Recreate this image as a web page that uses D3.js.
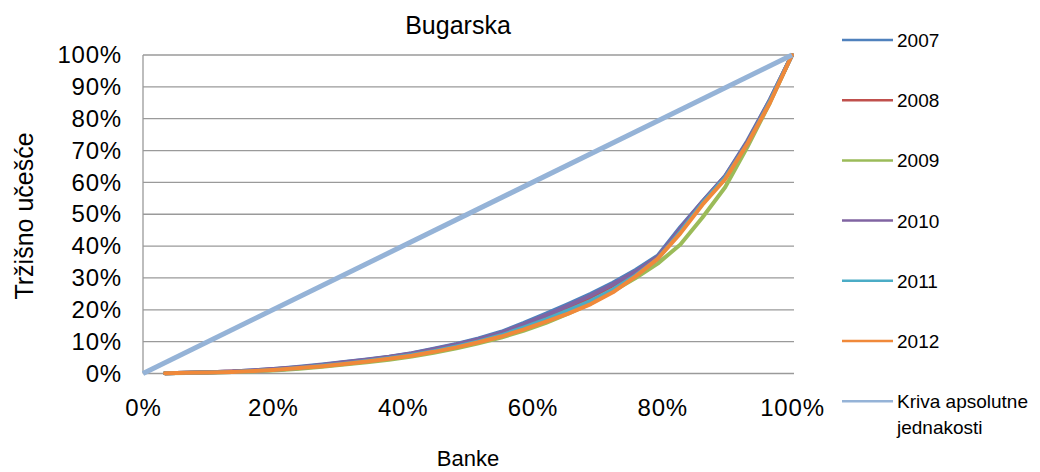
<!DOCTYPE html>
<html>
<head>
<meta charset="utf-8">
<script src="https://cdn.jsdelivr.net/npm/d3@7"></script>
<style>
  html, body { margin: 0; padding: 0; background: #fff; }
  svg { display: block; font-family: "Liberation Sans", Arial, sans-serif; }
</style>
</head>
<body>
<svg id="chart" width="1040" height="472"></svg>
<script>
// ---- Data ----
const title = "Bugarska";
const xTitle = "Banke";
const yTitle = "Tržišno učešće";
const years = ["2007", "2008", "2009", "2010", "2011", "2012"];
const equalityLabel = ["Kriva apsolutne", "jednakosti"];

// cumulative share of banks (%) for bank 1..29
const banke = [3.4, 6.9, 10.3, 13.8, 17.2, 20.7, 24.1, 27.6, 31.0, 34.5, 37.9, 41.4, 44.8, 48.3, 51.7,
               55.2, 58.6, 62.1, 65.5, 69.0, 72.4, 75.9, 79.3, 82.8, 86.2, 89.7, 93.1, 96.6, 100];

// cumulative market share (%)
const y2007 = [0.1, 0.2, 0.4, 0.6, 1.0, 1.5, 2.1, 2.8, 3.6, 4.4, 5.3, 6.4, 7.8, 9.3, 11.0,
               13.1, 15.8, 18.8, 21.8, 25.0, 28.5, 32.5, 37.0, 46.0, 54.0, 62.0, 73.0, 86.0, 100];
const y2008 = [0.1, 0.2, 0.4, 0.6, 0.9, 1.4, 1.9, 2.6, 3.4, 4.2, 5.1, 6.1, 7.4, 8.9, 10.5,
               12.5, 15.0, 17.8, 20.8, 24.0, 27.6, 31.8, 36.5, 45.0, 53.5, 61.5, 72.5, 85.5, 100];
const y2009 = [0.05, 0.15, 0.3, 0.45, 0.7, 1.0, 1.5, 2.1, 2.8, 3.5, 4.3, 5.3, 6.5, 7.9, 9.5,
               11.3, 13.4, 15.9, 18.8, 22.0, 25.8, 30.0, 34.5, 40.5, 49.0, 58.5, 71.0, 85.0, 100];
const y2010 = [0.1, 0.2, 0.4, 0.6, 1.0, 1.5, 2.0, 2.7, 3.5, 4.3, 5.2, 6.3, 7.6, 9.1, 10.8,
               12.8, 15.4, 18.3, 21.3, 24.5, 28.0, 32.0, 36.5, 45.5, 54.0, 62.0, 72.5, 86.0, 100];
const y2011 = [0.1, 0.2, 0.3, 0.5, 0.8, 1.2, 1.7, 2.4, 3.1, 3.9, 4.8, 5.8, 7.0, 8.5, 10.1,
               12.0, 14.4, 17.0, 19.8, 22.8, 26.4, 30.8, 36.0, 44.5, 53.5, 61.5, 72.0, 85.5, 100];
const y2012 = [0.1, 0.2, 0.3, 0.5, 0.8, 1.2, 1.7, 2.3, 3.0, 3.8, 4.6, 5.6, 6.8, 8.2, 9.8,
               11.6, 13.8, 16.3, 18.8, 21.8, 25.5, 30.5, 36.0, 44.0, 53.0, 61.0, 72.0, 85.0, 100];

const equalityX = [0, 100];
const equalityY = [0, 100];

const xTicks = [0, 20, 40, 60, 80, 100];
const yTicks = [0, 10, 20, 30, 40, 50, 60, 70, 80, 90, 100];

const seriesValues = [y2007, y2008, y2009, y2010, y2011, y2012];
const seriesColors = ["#4F81BD", "#C0504D", "#9BBB59", "#8064A2", "#4BACC6", "#F0893A"];
const equalityColor = "#95B3D7";

// ---- Layout ----
const svg = d3.select("#chart");
const plotLeft = 143, plotRight = 792, plotTop = 55, plotBottom = 373.5;

const x = d3.scaleLinear().domain([0, 100]).range([plotLeft, plotRight]);
const y = d3.scaleLinear().domain([0, 100]).range([plotBottom, plotTop]);

// gridlines
svg.append("g")
  .selectAll("line")
  .data(yTicks)
  .join("line")
  .attr("x1", plotLeft).attr("x2", plotRight + 2)
  .attr("y1", d => y(d)).attr("y2", d => y(d))
  .attr("stroke", "#9a9a9a").attr("stroke-width", 1.3);

// y axis line
svg.append("line")
  .attr("x1", plotLeft).attr("x2", plotLeft)
  .attr("y1", y(100)).attr("y2", y(0))
  .attr("stroke", "#9a9a9a").attr("stroke-width", 1.3);

// y axis labels
const yAxis = d3.axisLeft(y).tickValues(yTicks).tickFormat(d => d + "%").tickSize(0).tickPadding(21);
const gy = svg.append("g").attr("transform", `translate(${plotLeft},0)`).call(yAxis);
gy.select(".domain").remove();
gy.selectAll("text")
  .attr("font-size", 24).attr("fill", "#000")
  .attr("font-family", "Liberation Sans, Arial, sans-serif")
  .attr("letter-spacing", 0.8);

// x axis labels
const xAxis = d3.axisBottom(x).tickValues(xTicks).tickFormat(d => d + "%").tickSize(0).tickPadding(25);
const gx = svg.append("g").attr("transform", `translate(0,${plotBottom})`).call(xAxis);
gx.select(".domain").remove();
gx.selectAll("text")
  .attr("font-size", 24).attr("fill", "#000")
  .attr("font-family", "Liberation Sans, Arial, sans-serif")
  .attr("letter-spacing", 0.8);

// lines
const line = d3.line().x(d => x(d[0])).y(d => y(d[1]));
seriesValues.forEach((vals, i) => {
  const pts = banke.map((b, j) => [b, vals[j]]);
  svg.append("path")
    .attr("d", line(pts))
    .attr("fill", "none")
    .attr("stroke", seriesColors[i])
    .attr("stroke-width", 4)
    .attr("stroke-linejoin", "round")
    .attr("stroke-linecap", "round");
});

svg.append("path")
  .attr("d", line(equalityX.map((v, j) => [v, equalityY[j]])))
  .attr("fill", "none")
  .attr("stroke", equalityColor)
  .attr("stroke-width", 5);

// title
svg.append("text")
  .attr("x", 458).attr("y", 34)
  .attr("text-anchor", "middle")
  .attr("font-size", 25)
  .text(title);

// axis titles
svg.append("text")
  .attr("x", 468).attr("y", 466)
  .attr("text-anchor", "middle")
  .attr("font-size", 22)
  .text(xTitle);

svg.append("text")
  .attr("transform", "translate(33,216) rotate(-90)")
  .attr("text-anchor", "middle")
  .attr("font-size", 25)
  .text(yTitle);

// legend
const legendItems = years.map((yr, i) => ({ label: [yr], color: seriesColors[i] }))
  .concat([{ label: equalityLabel, color: equalityColor }]);
const lg = svg.append("g");
legendItems.forEach((item, i) => {
  const cy = 40 + i * 60.2;
  lg.append("line")
    .attr("x1", 842).attr("x2", 893)
    .attr("y1", cy).attr("y2", cy)
    .attr("stroke", item.color).attr("stroke-width", 2.5);
  const t = lg.append("text")
    .attr("x", 897).attr("y", cy + 7)
    .attr("font-size", 19)
    .attr("fill", "#000");
  item.label.forEach((l, k) => {
    t.append("tspan").attr("x", 897).attr("dy", k === 0 ? 0 : 26).text(l);
  });
});
</script>
</body>
</html>
